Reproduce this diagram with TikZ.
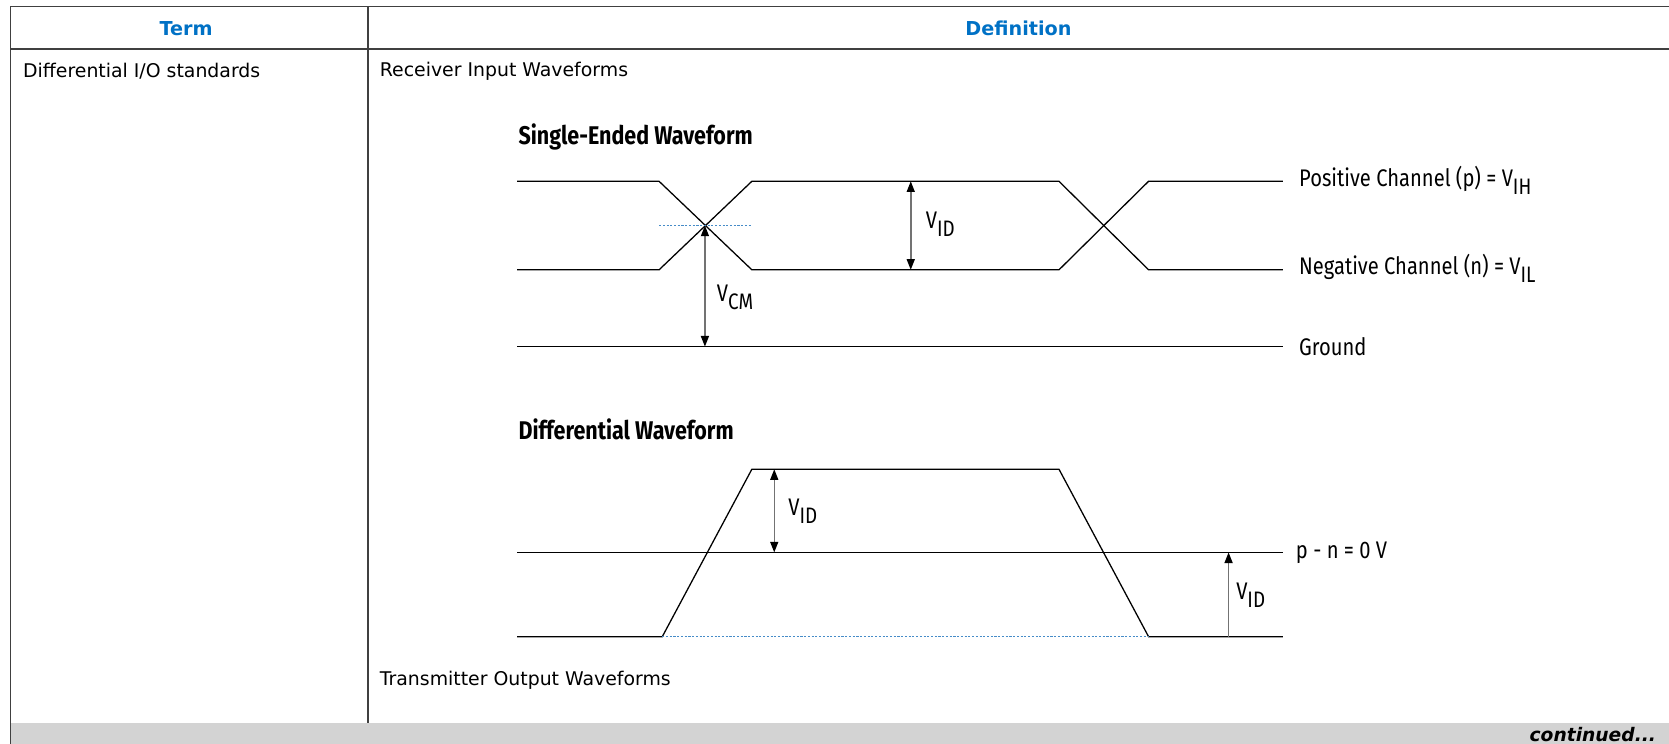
\documentclass[tikz,border=0pt]{standalone}
\usepackage{fontspec}
\setmainfont{DejaVu Sans}
\newfontfamily\condfont[FakeStretch=0.84]{Fira Sans}
\usepackage{tikz}
\usetikzlibrary{arrows.meta}

\definecolor{headblue}{RGB}{0,113,197}
\definecolor{bargray}{RGB}{211,211,211}
\definecolor{dotblue}{RGB}{70,140,200}

\newcommand{\lowsub}[1]{\raisebox{-0.62ex}{\fontsize{21}{21}\selectfont #1}}

\tikzset{
  wave/.style={line width=1.2pt, line join=miter},
  dimarrow/.style={line width=1.4pt, draw=black!55, {Triangle[length=10pt,width=7.5pt,color=black]}-{Triangle[length=10pt,width=7.5pt,color=black]}},
  uparrow/.style={line width=1.4pt, draw=black!55, -{Triangle[length=10pt,width=7.5pt,color=black]}},
  midline/.style={line width=1pt, dotblue, dash pattern=on 2pt off 1.5pt},
  tabletext/.style={font=\fontsize{17.7}{21}\selectfont, inner sep=0pt, anchor=west},
  headtext/.style={font=\fontsize{18}{21}\selectfont\bfseries, text=headblue, inner sep=0pt},
  wavelabel/.style={font=\condfont\fontsize{22.5}{26}\selectfont, inner sep=0pt, anchor=west},
  wavetitle/.style={font=\condfont\fontsize{24}{28}\selectfont\bfseries, inner sep=0pt, anchor=west}
}

\begin{document}
\begin{tikzpicture}[x=1pt,y=-1pt]
    \useasboundingbox (0,0) rectangle (1565,697.5);

    % Dibuja la tabla
    \fill[bargray] (10,678) rectangle (1565,697.5);
    \draw[line width=1.3pt, black!75] (1565,6.3) -- (10,6.3) -- (10,697.5);
    \draw[line width=1.3pt, black!75] (10,46) -- (1565,46);
    \draw[line width=1.3pt, black!75] (345,6.3) -- (345,678);

    % Encabezados
    \node[headtext] (term) at (174.5,26.5) {Term};
    \node[headtext] (defn) at (955,26.5) {Definition};
    \node[tabletext] (termtxt) at (21.5,67) {Differential I/O standards};
    \node[tabletext] (rxtxt) at (356,67) {Receiver Input Waveforms};
    \node[tabletext] (txtxt) at (356,638) {Transmitter Output Waveforms};
    \node[font=\fontsize{17.5}{21}\selectfont\bfseries\itshape, inner sep=0pt, anchor=east] (cont) at (1553,689) {continued...};

    % Dibuja la forma de onda single-ended
    \node[wavetitle] (setitle) at (486,128) {Single-Ended Waveform};
    \coordinate (cross) at (661,211.5);
    \coordinate (gnd) at (661,325);
    \coordinate (idtop) at (854,170);
    \coordinate (idbot) at (854,253);
    \draw[wave] (485,170) -- (618,170) -- (705,253) -- (993,253) -- (1077,170) -- (1203,170);
    \draw[wave] (485,253) -- (618,253) -- (705,170) -- (993,170) -- (1077,253) -- (1203,253);
    \draw[wave] (485,325) -- (1203,325);
    \draw[midline] (618,211.5) -- (704,211.5);
    \draw[dimarrow] (cross) -- (gnd);
    \draw[dimarrow] (idtop) -- (idbot);
    \node[wavelabel] (vcm) at (672,279) {V\lowsub{CM}};
    \node[wavelabel] (vid1) at (868,210) {V\lowsub{ID}};
    \node[wavelabel] (pos) at (1218,169) {Positive Channel (p) = V\lowsub{IH}};
    \node[wavelabel] (neg) at (1218,252) {Negative Channel (n) = V\lowsub{IL}};
    \node[wavelabel] (ground) at (1218,325) {Ground};

    % Dibuja la forma de onda diferencial
    \node[wavetitle] (dtitle) at (486,403) {Differential Waveform};
    \coordinate (dtop) at (726,440);
    \coordinate (dzero) at (726,518);
    \coordinate (rzero) at (1152,518);
    \coordinate (rbot) at (1152,597);
    \draw[wave] (485,597) -- (621,597) -- (705,440) -- (993,440) -- (1077,597) -- (1203,597);
    \draw[wave] (485,518) -- (1203,518);
    \draw[midline] (621,597) -- (1077,597);
    \draw[dimarrow] (dtop) -- (dzero);
    \draw[uparrow] (rbot) -- (rzero);
    \node[wavelabel] (vid2) at (739,479) {V\lowsub{ID}};
    \node[wavelabel] (vid3) at (1159,558) {V\lowsub{ID}};
    \node[wavelabel] (zero) at (1215,518) {p - n = 0 V};
\end{tikzpicture}
\end{document}
